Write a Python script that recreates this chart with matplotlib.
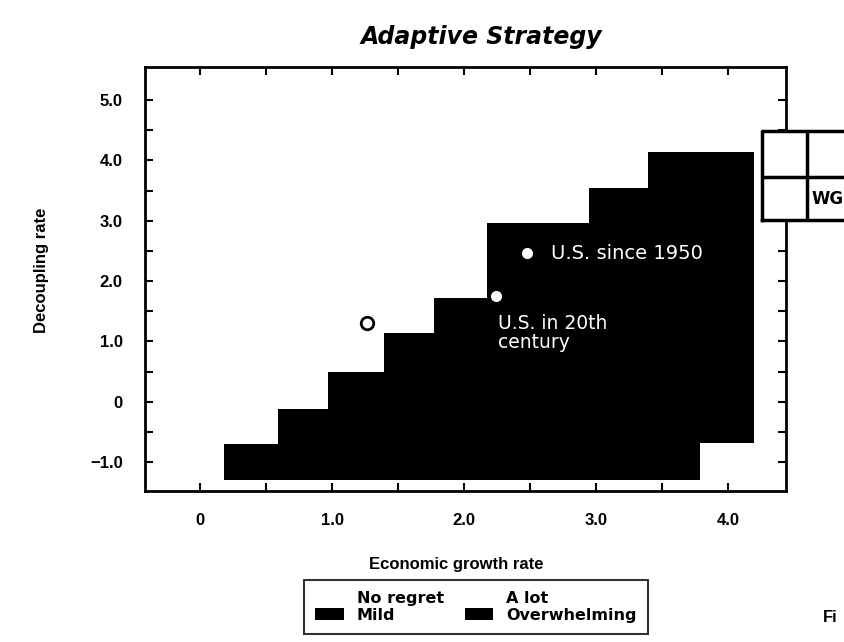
import numpy as np
import matplotlib.pyplot as plt
from matplotlib.patches import Patch

plt.rcParams['font.family'] = ['Liberation Sans', 'DejaVu Sans']

# staircase of the "adaptive" region (left edges of each step, last value = right edge)
step_x = [0.18, 0.59, 0.97, 1.39, 1.77, 2.17, 2.95, 3.39, 3.79, 4.20]
step_top = [-0.70, -0.12, 0.49, 1.14, 1.72, 2.96, 3.54, 4.14, 4.14, 4.14]
step_bottom = [-1.30, -1.30, -1.30, -1.30, -1.30, -1.30, -1.30, -1.30, -0.68, -0.68]

# marked points
us_1950 = (2.48, 2.46)
us_20th = (2.24, 1.75)
world_pt = (1.26, 1.30)

x_ticks = [0, 1.0, 2.0, 3.0, 4.0]
x_labels = ['0', '1.0', '2.0', '3.0', '4.0']
y_ticks = [-1.0, 0, 1.0, 2.0, 3.0, 4.0, 5.0]
y_labels = ['\u22121.0', '0', '1.0', '2.0', '3.0', '4.0', '5.0']

legend_labels = ['No regret', 'Mild', 'A lot', 'Overwhelming']
legend_colors = ['white', 'black', 'white', 'black']

fig = plt.figure(figsize=(8.44, 6.42), dpi=100)
ax = fig.add_axes([145/844, 1-491/642, (786-145)/844, (491-67)/642])

ax.fill_between(step_x, step_bottom, step_top, step='post', color='black', lw=0)

ax.plot(*us_1950, 'o', color='white', ms=7, mec='white')
ax.plot(*us_20th, 'o', color='white', ms=7, mec='white')
ax.plot(*world_pt, 'o', mfc='white', mec='black', ms=9, mew=2)

ax.text(us_1950[0] + 0.18, us_1950[1], 'U.S. since 1950', color='white',
        fontsize=14, va='center', ha='left', family='DejaVu Sans')
ax.text(us_20th[0] + 0.02, us_20th[1] - 0.30, 'U.S. in 20th\ncentury', color='white',
        fontsize=13.5, va='top', ha='left', linespacing=1.0, family='DejaVu Sans')

ax.set_xlim(-0.42, 4.44)
ax.set_ylim(-1.48, 5.55)
ax.set_xticks(x_ticks)
ax.set_xticklabels(x_labels, fontsize=12, fontweight='bold')
ax.set_yticks(y_ticks)
ax.set_yticklabels(y_labels, fontsize=12, fontweight='bold')
ax.set_xticks(np.arange(0.5, 4.0, 1.0), minor=True)
ax.set_yticks(np.arange(-0.5, 5.0, 1.0), minor=True)
ax.tick_params(which='both', direction='in', length=6, width=1.5,
               top=True, right=True)
ax.tick_params(axis='x', pad=16)
ax.tick_params(axis='y', pad=16)
for s in ax.spines.values():
    s.set_linewidth(2)

ax.set_xlabel('Economic growth rate', fontsize=12, fontweight='bold')
ax.set_ylabel('Decoupling rate', fontsize=12, fontweight='bold')
ax.xaxis.set_label_coords(0.485, -0.156)
ax.yaxis.set_label_coords(-0.150, 0.521)
fig.text(481/844, 1-37/642, 'Adaptive Strategy', fontsize=17, fontweight='bold',
         fontstyle='italic', ha='center', va='center', family='DejaVu Sans')

# little box on the right edge
bx = fig.add_axes([762/844, 1-220/642, 120/844, 89/642])
bx.set_xlim(0, 120)
bx.set_ylim(0, 89)
bx.axis('off')
bx.fill_between([0, 120], 0, 89, color='white')
bx.plot([0, 120, 120, 0, 0], [0, 0, 89, 89, 0], color='black', lw=2.5, clip_on=False)
bx.plot([0, 120], [43, 43], color='black', lw=2.5)
bx.plot([45, 45], [0, 89], color='black', lw=2.5)
bx.text(49, 21, 'WG', fontsize=12, fontweight='bold', va='center', ha='left',
        family='DejaVu Sans')

handles = [Patch(facecolor=c, edgecolor='none') for c in legend_colors]
leg = fig.legend(handles, legend_labels, ncol=2, loc='upper left',
                 bbox_to_anchor=(304/844, 1-580/642),
                 prop={'weight': 'bold', 'size': 11.5, 'family': 'DejaVu Sans'},
                 frameon=True, fancybox=False,
                 edgecolor='black', labelspacing=0.1, handlelength=1.8,
                 handleheight=0.75, handletextpad=0.8, columnspacing=1.3,
                 borderpad=0.7, borderaxespad=0)
leg.get_frame().set_linewidth(1.5)

fig.text(823/844, 1-618/642, 'Fi', fontsize=12, fontweight='bold', va='center', ha='left')

fig.savefig('out.png', dpi=100)
